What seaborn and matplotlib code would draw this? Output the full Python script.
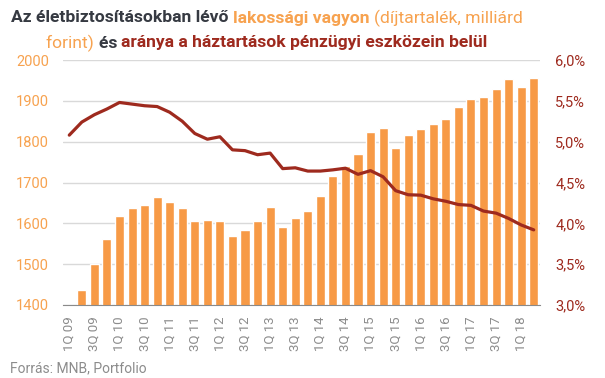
import numpy as np
import pandas as pd
import matplotlib
matplotlib.use('Agg')
import matplotlib.pyplot as plt
import seaborn as sns

# negyedévek 1Q 09 - 2Q 18
quarters = [f'{q}Q {y:02d}' for y in range(9, 19) for q in range(1, 5)][:38]

# lakossági vagyon (díjtartalék, milliárd forint) - az első oszlop a tengely alatt van
vagyon = [np.nan, 1437, 1501, 1562, 1618, 1638, 1644, 1665, 1653, 1638,
          1606, 1609, 1606, 1570, 1584, 1606, 1641, 1591, 1613, 1631,
          1668, 1716, 1741, 1770, 1824, 1833, 1785, 1816, 1830, 1843,
          1856, 1885, 1905, 1910, 1929, 1954, 1934, 1956]

# aránya a háztartások pénzügyi eszközein belül (%)
arany = [5.08, 5.24, 5.33, 5.40, 5.48, 5.46, 5.44, 5.43, 5.36, 5.25,
         5.10, 5.03, 5.06, 4.90, 4.89, 4.84, 4.86, 4.67, 4.68, 4.64,
         4.64, 4.655, 4.675, 4.60, 4.645, 4.57, 4.40, 4.35, 4.345, 4.30,
         4.27, 4.23, 4.22, 4.15, 4.125, 4.06, 3.98, 3.92]

ORANGE = '#f79a46'
ORANGE_TXT = '#f7a24f'
RED = '#9e2a1e'
DARK = '#363a42'
GRAY = '#8c8c8c'

sns.set_style('white')
plt.rcParams['font.family'] = ['Roboto', 'DejaVu Sans']

df = pd.DataFrame({'negyedev': quarters, 'vagyon': vagyon, 'arany': arany})

fig = plt.figure(figsize=(6.05, 3.78), dpi=100)
ax = fig.add_axes([63/605, 73/378, 477/605, 245/378])

sns.barplot(data=df, x='negyedev', y='vagyon', order=quarters, color=ORANGE,
            saturation=1, width=0.72, ax=ax)
ax.set_ylim(1400, 2000)
ax.set_xlim(-0.5, len(quarters) - 0.5)
ax.set_yticks(range(1400, 2001, 100))
ax.yaxis.grid(True, color='#d9d9d9', linewidth=1)
ax.set_axisbelow(True)
ax.set_xlabel('')
ax.set_ylabel('')
ax.set_xticks(range(0, len(quarters), 2))
ax.set_xticklabels(quarters[::2], rotation=90)
ax.tick_params(axis='x', length=0, pad=8, labelsize=9.5, labelcolor=GRAY)
ax.tick_params(axis='y', length=0, pad=10, labelsize=10.5, labelcolor=ORANGE_TXT)
for s in ['top', 'right', 'left']:
    ax.spines[s].set_visible(False)
ax.spines['bottom'].set_color('#8a8a8a')

ax2 = ax.twinx()
sns.lineplot(x=np.arange(len(quarters)), y=df['arany'], color=RED, linewidth=2.3, ax=ax2)
ax2.set_ylim(3.0, 6.0)
ax2.set_yticks(np.arange(3.0, 6.01, 0.5))
ax2.set_yticklabels([f'{v:.1f}%'.replace('.', ',') for v in np.arange(3.0, 6.01, 0.5)])
ax2.set_ylabel('')
ax2.tick_params(axis='y', length=0, pad=11, labelsize=10.5, labelcolor=RED)
for s in ax2.spines.values():
    s.set_visible(False)

# többszínű cím
renderer = fig.canvas.get_renderer()
def title_line(pieces, y, cx):
    texts = []
    for txt, col, w in pieces:
        t = fig.text(0, y, txt, color=col, fontweight=w, fontsize=12.6, va='center')
        texts.append(t)
    widths = [t.get_window_extent(renderer).width for t in texts]
    x = cx * 605 - sum(widths) / 2
    for t, wd in zip(texts, widths):
        t.set_x(x / 605)
        x += wd

title_line([('Az életbiztosításokban lévő ', DARK, 'bold'),
            ('lakossági vagyon ', ORANGE_TXT, 'bold'),
            ('(díjtartalék, milliárd', ORANGE_TXT, 'normal')],
           1 - 18/378, 267/605)
title_line([('forint) ', ORANGE_TXT, 'normal'),
            ('és ', DARK, 'bold'),
            ('aránya a háztartások pénzügyi eszközein belül', RED, 'bold')],
           1 - 43/378, 267/605)

fig.text(10/605, 1 - 368/378, 'Forrás: MNB, Portfolio', color=GRAY, fontsize=10, va='center')

plt.savefig('out.png', dpi=100)
